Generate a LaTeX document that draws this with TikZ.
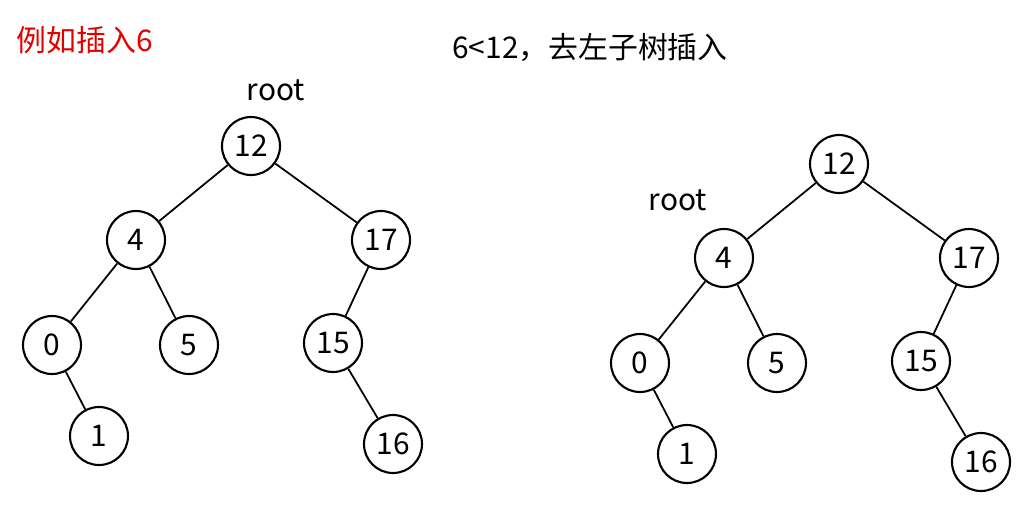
\documentclass[tikz,border=0pt]{standalone}
\usepackage{fontspec}
\setmainfont{Noto Sans CJK SC}
\begin{document}
\begin{tikzpicture}[x=0.02cm,y=-0.02cm,
  n/.style={circle,draw,line width=1.2pt,minimum size=1.16cm,inner sep=0pt,font=\fontsize{17}{17}\selectfont},
  t/.style={font=\fontsize{17}{17}\selectfont},
  e/.style={line width=1pt}]
\useasboundingbox (0,0) rectangle (1028,515);
\node[t,text=red!90!black] (title) at (85,40) {例如插入6};
\node[t] (cmp) at (590,48) {6<12，去左子树插入};
\node[t] (r1) at (276,90) {root};
\node[t] (r2) at (678,200) {root};
\foreach \p/\dx/\dy in {a/0/0,b/588/18}{
\begin{scope}[shift={(\dx,\dy)}]
\node[n] (\p12) at (251,146) {12};
\node[n] (\p4) at (136,240) {4};
\node[n] (\p17) at (381,240) {17};
\node[n] (\p0) at (52,345) {0};
\node[n] (\p5) at (189,345) {5};
\node[n] (\p15) at (333,343) {15};
\node[n] (\p1) at (99,436) {1};
\node[n] (\p16) at (393,444) {16};
\end{scope}
\draw[e] (\p12)--(\p4); \draw[e] (\p12)--(\p17);
\draw[e] (\p4)--(\p0); \draw[e] (\p4)--(\p5);
\draw[e] (\p17)--(\p15); \draw[e] (\p0)--(\p1);
\draw[e] (\p15)--(\p16);
}
\end{tikzpicture}
\end{document}
